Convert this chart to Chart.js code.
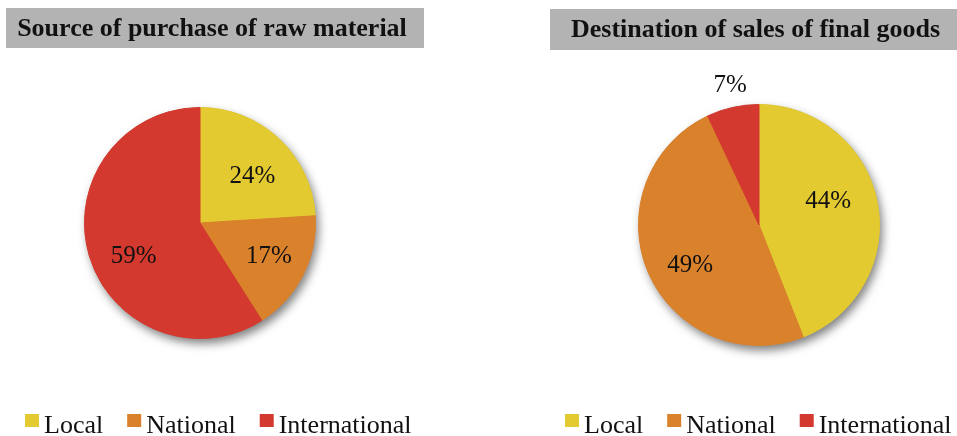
<!DOCTYPE html>
<html>
<head>
<meta charset="utf-8">
<script src="https://cdn.jsdelivr.net/npm/chart.js@4.4.0/dist/chart.umd.min.js"></script>
<style>
  html, body { margin: 0; padding: 0; background: #ffffff; }
  body { width: 957px; height: 436px; position: relative; overflow: hidden; }
  canvas { position: absolute; top: 0; }
  #c1 { left: 0; }
  #c2 { left: 478px; }
</style>
</head>
<body>
<canvas id="c1" width="478" height="436"></canvas>
<canvas id="c2" width="479" height="436"></canvas>
<script>
// Shares in percent, same category order for both pies
const categories = ['Local', 'National', 'International'];
const purchaseShares = [24, 17, 59];
const salesShares = [44, 49, 7];
const chartTitles = ['Source of purchase of raw material', 'Destination of sales of final goods'];
const sliceColors = ['#E2CA30', '#DA812C', '#D3392E'];

const SERIF = "'Liberation Serif', 'DejaVu Serif', serif";

// Grey banner with the bold heading
const titleBoxPlugin = {
  id: 'titleBox',
  afterDraw(chart, args, opts) {
    const ctx = chart.ctx;
    ctx.save();
    ctx.fillStyle = '#B3B3B3';
    ctx.fillRect(opts.x, opts.y, opts.w, opts.h);
    ctx.fillStyle = '#111111';
    ctx.font = 'bold 26px ' + SERIF;
    ctx.textAlign = 'center';
    ctx.textBaseline = 'middle';
    ctx.fillText(opts.text, opts.x + opts.w / 2 + (opts.dx || 0), opts.y + opts.h / 2 + 1);
    ctx.restore();
  }
};

// Soft drop shadow under the whole pie
const pieShadowPlugin = {
  id: 'pieShadow',
  beforeDatasetsDraw(chart) {
    const arc = chart.getDatasetMeta(0).data[0];
    if (!arc) return;
    const ctx = chart.ctx;
    ctx.save();
    ctx.shadowColor = 'rgba(0,0,0,0.5)';
    ctx.shadowBlur = 10;
    ctx.shadowOffsetX = 3;
    ctx.shadowOffsetY = 5;
    ctx.fillStyle = '#8a8a8a';
    ctx.beginPath();
    ctx.arc(arc.x, arc.y, arc.outerRadius, 0, Math.PI * 2);
    ctx.fill();
    ctx.restore();
  }
};

// Percentage labels placed relative to each slice's middle angle
const sliceLabelPlugin = {
  id: 'sliceLabels',
  afterDatasetsDraw(chart, args, opts) {
    const ctx = chart.ctx;
    const values = chart.data.datasets[0].data;
    const meta = chart.getDatasetMeta(0);
    ctx.save();
    ctx.fillStyle = '#111111';
    ctx.font = '25px ' + SERIF;
    ctx.textAlign = 'center';
    ctx.textBaseline = 'middle';
    meta.data.forEach((arc, i) => {
      const p = arc.getProps(['x', 'y', 'startAngle', 'endAngle', 'outerRadius'], true);
      const mid = (p.startAngle + p.endAngle) / 2 + (opts.angleShift[i] || 0) * Math.PI / 180;
      const f = opts.radius[i];
      const lx = p.x + Math.cos(mid) * p.outerRadius * f;
      const ly = p.y + Math.sin(mid) * p.outerRadius * f;
      ctx.fillText(values[i] + '%', lx, ly + 1);
    });
    ctx.restore();
  }
};

// Row of square swatches with category names
const swatchLegendPlugin = {
  id: 'swatchLegend',
  afterDraw(chart, args, opts) {
    const ctx = chart.ctx;
    const ds = chart.data.datasets[0];
    ctx.save();
    ctx.font = '26px ' + SERIF;
    ctx.textBaseline = 'alphabetic';
    ctx.textAlign = 'left';
    let x = opts.x;
    chart.data.labels.forEach((label, i) => {
      ctx.fillStyle = ds.backgroundColor[i];
      ctx.fillRect(x, opts.y, 14, 13);
      ctx.fillStyle = '#111111';
      const tx = x + 19;
      ctx.fillText(label, tx, opts.y + 19);
      x = tx + ctx.measureText(label).width + 24;
    });
    ctx.restore();
  }
};

function makePie(canvasId, values, title, padding, boxOpts, labelOpts, legendOpts) {
  return new Chart(document.getElementById(canvasId), {
    type: 'pie',
    data: {
      labels: categories,
      datasets: [{
        data: values,
        backgroundColor: sliceColors,
        borderColor: sliceColors,
        borderWidth: 1
      }]
    },
    options: {
      responsive: false,
      animation: false,
      rotation: 0,
      layout: { padding: padding },
      plugins: {
        legend: { display: false },
        tooltip: { enabled: false },
        titleBox: Object.assign({ text: title }, boxOpts),
        sliceLabels: labelOpts,
        swatchLegend: legendOpts
      }
    },
    plugins: [pieShadowPlugin, sliceLabelPlugin, titleBoxPlugin, swatchLegendPlugin]
  });
}

makePie('c1', purchaseShares, chartTitles[0],
  { left: 84, right: 162, top: 107, bottom: 97 },
  { x: 6, y: 8, w: 418, h: 40, dx: -3 },
  { angleShift: [4.8, -1.6, -10], radius: [0.61, 0.66, 0.64] },
  { x: 25, y: 414 });

makePie('c2', salesShares, chartTitles[1],
  { left: 160, right: 77, top: 104, bottom: 90 },
  { x: 72, y: 9, w: 407, h: 41, dx: 2 },
  { angleShift: [-9, -6.7, 1], radius: [0.61, 0.66, 1.19] },
  { x: 87, y: 414 });
</script>
</body>
</html>
